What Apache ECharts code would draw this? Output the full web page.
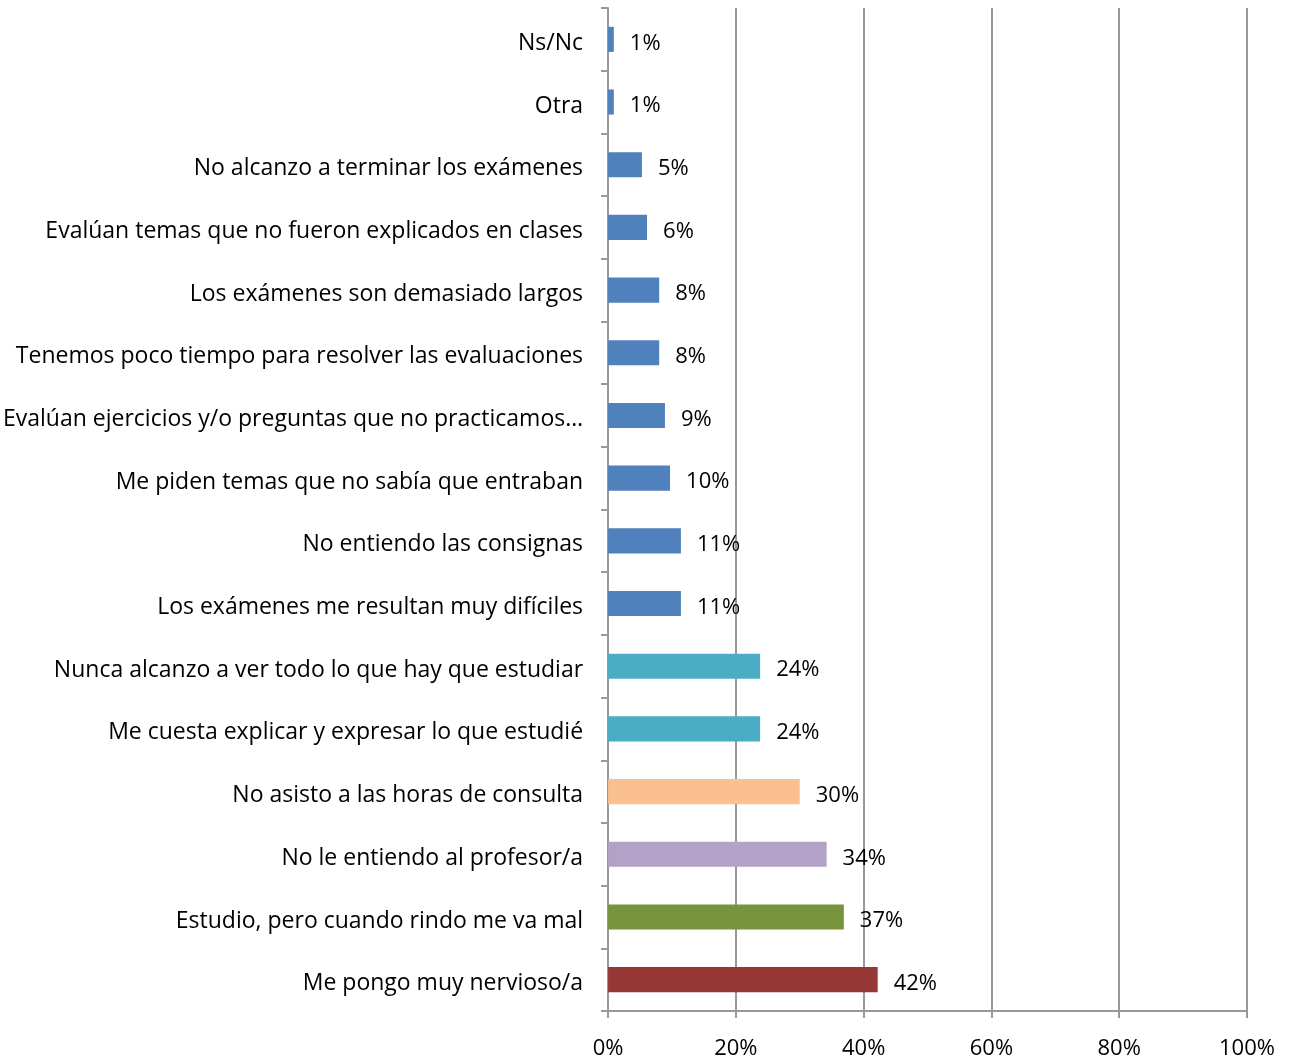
<!DOCTYPE html>
<html><head><meta charset="utf-8">
<script src="https://cdn.jsdelivr.net/npm/echarts@6/dist/echarts.min.js"></script>
<style>html,body{margin:0;padding:0;background:#fff}#c{width:1295px;height:1060px}</style>
</head><body><div id="c"></div>
<script>
const categories = [
  "Me pongo muy nervioso/a",
  "Estudio, pero cuando rindo me va mal",
  "No le entiendo al profesor/a",
  "No asisto a las horas de consulta",
  "Me cuesta explicar y expresar lo que estudié",
  "Nunca alcanzo a ver todo lo que hay que estudiar",
  "Los exámenes me resultan muy difíciles",
  "No entiendo las consignas",
  "Me piden temas que no sabía que entraban",
  "Evalúan ejercicios y/o preguntas que no practicamos…",
  "Tenemos poco tiempo para resolver las evaluaciones",
  "Los exámenes son demasiado largos",
  "Evalúan temas que no fueron explicados en clases",
  "No alcanzo a terminar los exámenes",
  "Otra",
  "Ns/Nc"
];
const values = [42.2, 36.9, 34.2, 30.0, 23.8, 23.8, 11.4, 11.4, 9.7, 8.9, 8.0, 8.0, 6.1, 5.3, 0.9, 0.9];
const barColors = ["#953735", "#77933C", "#B2A2C7", "#FAC090", "#4BACC6", "#4BACC6",
  "#4F81BD", "#4F81BD", "#4F81BD", "#4F81BD", "#4F81BD", "#4F81BD", "#4F81BD", "#4F81BD", "#4F81BD", "#4F81BD"];
const xTicks = [0, 20, 40, 60, 80, 100];

const font = "Open Sans";
const chart = echarts.init(document.getElementById('c'), null, {renderer: 'canvas'});
chart.setOption({
  animation: false,
  grid: {left: 607, right: 48, top: 8, bottom: 49, containLabel: false},
  xAxis: {
    type: 'value', min: xTicks[0], max: xTicks[xTicks.length - 1], interval: 20,
    axisLine: {show: true, lineStyle: {color: '#999', width: 2}},
    axisTick: {show: true, length: 7, lineStyle: {color: '#999', width: 2}},
    splitLine: {show: true, lineStyle: {color: '#999', width: 2}},
    axisLabel: {formatter: v => v + '%', color: '#000', fontSize: 22, fontFamily: font, margin: 27}
  },
  yAxis: {
    type: 'category', data: categories,
    axisLine: {show: true, lineStyle: {color: '#999', width: 2}},
    axisTick: {show: true, length: 7, inside: false, alignWithLabel: false, lineStyle: {color: '#999', width: 2}},
    axisLabel: {color: '#000', fontSize: 23, fontFamily: font, margin: 25,
      formatter: v => '{a|' + v + '}',
      rich: {a: {fontSize: 23, fontFamily: font, color: '#000', padding: [8, 0, 0, 0]}}},
    splitLine: {show: false}
  },
  series: [{
    type: 'bar', barWidth: '40%',
    data: values.map((v, i) => ({value: v, itemStyle: {color: barColors[i]}})),
    label: {show: true, position: 'right', distance: 16, offset: [0, 4], color: '#000', fontSize: 22, fontFamily: font,
      formatter: p => Math.round(p.value) + '%'}
  }]
});
</script></body></html>
